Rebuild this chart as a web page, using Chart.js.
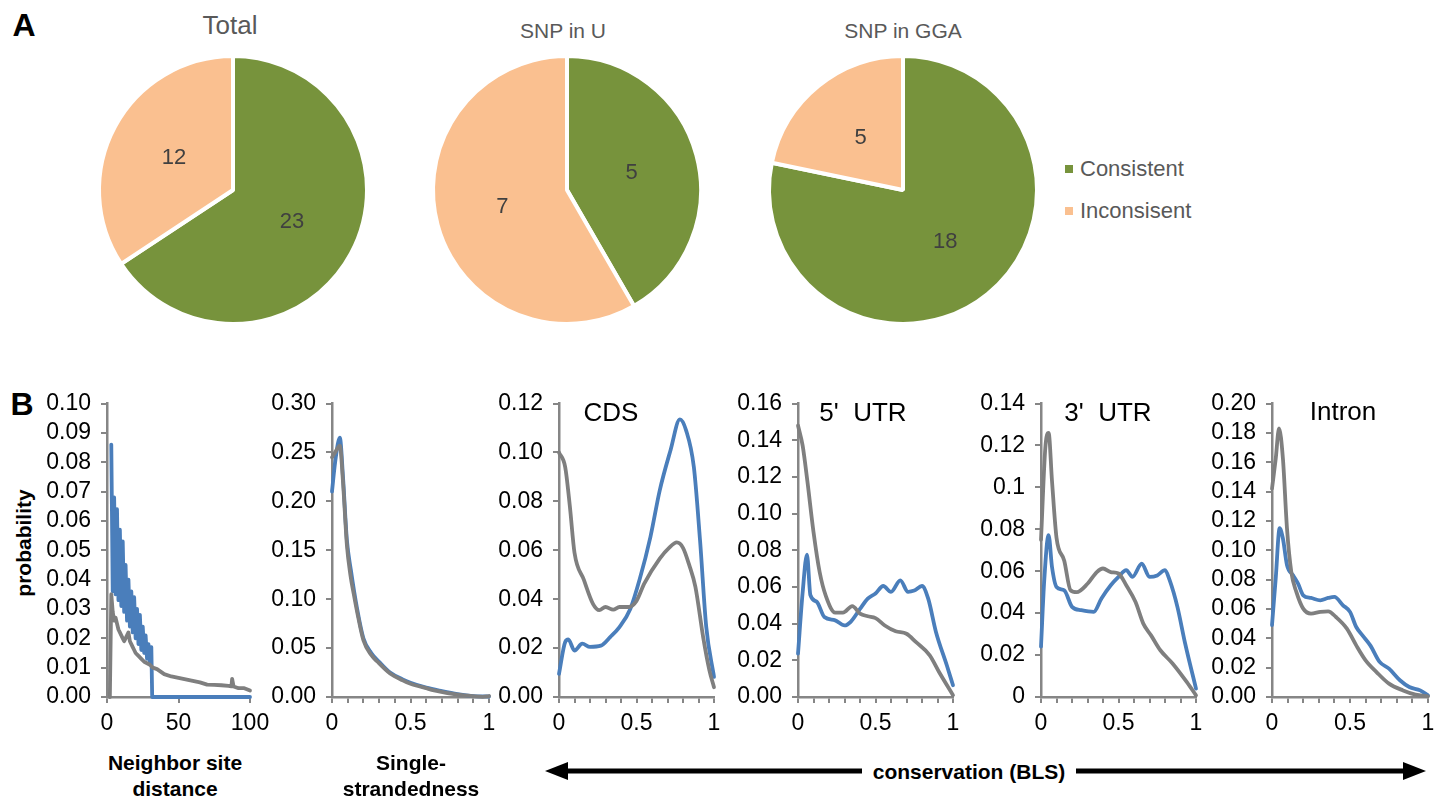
<!DOCTYPE html>
<html>
<head>
<meta charset="utf-8">
<script src="https://cdn.jsdelivr.net/npm/chart.js@4.4.0/dist/chart.umd.min.js"></script>
<style>
  body { margin: 0; background: #fff; font-family: "Liberation Sans", Arial, sans-serif; }
  #fig { position: relative; width: 1435px; height: 803px; overflow: hidden; background: #fff; }
  #fig canvas, #fig .t, #fig svg { position: absolute; }
  .t { white-space: pre; line-height: 1; transform: translate(-50%, -50%); }
</style>
</head>
<body>
<div id="fig"></div>
<script>
// ---- panel A data ----
const pieCategories = ['Consistent', 'Inconsisent'];
const pieColors = ['#77933C', '#FAC090'];
const pieTitles = ['Total', 'SNP in U', 'SNP in GGA'];
const totalCounts = [23, 12];
const snpUCounts = [5, 7];
const snpGGACounts = [18, 5];

// ---- panel B data (blue and gray series) ----
const distBlueX = [3, 4, 5, 6, 7, 8, 9, 10, 11, 12, 13, 14, 15, 16, 17, 18, 19, 20, 21, 22, 23, 24, 25, 26, 27, 28, 29, 30, 31, 31.6, 100];
const distBlueY = [0.086, 0.036, 0.068, 0.035, 0.064, 0.033, 0.057, 0.031, 0.053, 0.029, 0.045, 0.026, 0.040, 0.024, 0.036, 0.022, 0.034, 0.020, 0.030, 0.018, 0.028, 0.016, 0.024, 0.015, 0.021, 0.013, 0.018, 0.012, 0.017, 0, 0];
const distGrayX = [2, 3, 4, 5, 6, 7, 8, 9, 10, 11, 12, 13, 14, 15, 16, 17, 18, 19, 20, 22, 24, 26, 28, 30, 32, 35, 40, 45, 50, 55, 60, 65, 70, 75, 80, 85, 87, 87.5, 88.5, 92, 96, 100];
const distGrayY = [0, 0.035, 0.029, 0.026, 0.027, 0.025, 0.023, 0.022, 0.021, 0.020, 0.019, 0.020, 0.021, 0.022, 0.019, 0.018, 0.017, 0.016, 0.015, 0.014, 0.013, 0.012, 0.0115, 0.011, 0.010, 0.0095, 0.0078, 0.007, 0.0065, 0.006, 0.0055, 0.005, 0.0042, 0.0041, 0.004, 0.0038, 0.0036, 0.0062, 0.0036, 0.003, 0.003, 0.0022];

const strandBlueX = [0, 0.02, 0.05, 0.07, 0.095, 0.12, 0.16, 0.2, 0.25, 0.3, 0.37, 0.45, 0.5, 0.6, 0.7, 0.8, 0.9, 1];
const strandBlueY = [0.21, 0.24, 0.265, 0.225, 0.16, 0.13, 0.09, 0.06, 0.045, 0.036, 0.025, 0.018, 0.0145, 0.0095, 0.006, 0.003, 0.001, 0.0005];
const strandGrayX = [0, 0.02, 0.05, 0.07, 0.095, 0.117, 0.14, 0.16, 0.2, 0.25, 0.29, 0.37, 0.45, 0.5, 0.6, 0.65, 0.8, 0.9, 0.96, 1];
const strandGrayY = [0.245, 0.25, 0.257, 0.22, 0.155, 0.125, 0.104, 0.087, 0.058, 0.043, 0.036, 0.024, 0.017, 0.0136, 0.009, 0.0068, 0.0024, 0.0008, 0.0002, 0.001];

const cdsBlueX = [0, 0.04, 0.06, 0.1, 0.15, 0.2, 0.27, 0.33, 0.39, 0.46, 0.52, 0.59, 0.65, 0.72, 0.78, 0.82, 0.87, 0.91, 0.95, 1];
const cdsBlueY = [0.0095, 0.0225, 0.0235, 0.019, 0.0218, 0.0205, 0.021, 0.0245, 0.0286, 0.036, 0.048, 0.0655, 0.0845, 0.101, 0.1135, 0.109, 0.094, 0.064, 0.0286, 0.0082];
const cdsGrayX = [0, 0.04, 0.07, 0.1, 0.16, 0.22, 0.26, 0.3, 0.35, 0.39, 0.45, 0.5, 0.55, 0.65, 0.71, 0.76, 0.8, 0.84, 0.88, 0.93, 0.97, 1];
const cdsGrayY = [0.1, 0.094, 0.078, 0.059, 0.048, 0.038, 0.0355, 0.0368, 0.0357, 0.0368, 0.0368, 0.0393, 0.0464, 0.0566, 0.061, 0.0632, 0.061, 0.054, 0.045, 0.0245, 0.011, 0.004];

const utr5BlueX = [0, 0.03, 0.058, 0.08, 0.12, 0.17, 0.24, 0.3, 0.34, 0.4, 0.45, 0.5, 0.55, 0.6, 0.66, 0.71, 0.75, 0.8, 0.84, 0.89, 0.96, 1];
const utr5BlueY = [0.0236, 0.057, 0.0776, 0.0555, 0.052, 0.0436, 0.0418, 0.039, 0.041, 0.048, 0.0536, 0.0564, 0.0605, 0.0573, 0.0636, 0.0573, 0.058, 0.0605, 0.0536, 0.0355, 0.0173, 0.0064];
const utr5GrayX = [0, 0.03, 0.06, 0.1, 0.14, 0.18, 0.24, 0.29, 0.35, 0.4, 0.45, 0.5, 0.56, 0.63, 0.7, 0.76, 0.85, 0.91, 1];
const utr5GrayY = [0.148, 0.137, 0.118, 0.09, 0.068, 0.055, 0.046, 0.046, 0.0495, 0.0455, 0.044, 0.043, 0.039, 0.0358, 0.0345, 0.03, 0.0227, 0.0136, 0.001];

const utr3BlueX = [0, 0.021, 0.049, 0.071, 0.1, 0.15, 0.2, 0.26, 0.34, 0.39, 0.45, 0.5, 0.55, 0.59, 0.65, 0.7, 0.75, 0.8, 0.83, 0.88, 0.93, 1];
const utr3BlueY = [0.024, 0.0557, 0.0772, 0.062, 0.0525, 0.0509, 0.043, 0.0414, 0.0406, 0.047, 0.0533, 0.0573, 0.0605, 0.0573, 0.0636, 0.0573, 0.058, 0.0605, 0.0557, 0.043, 0.0255, 0.004];
const utr3GrayX = [0, 0.028, 0.049, 0.071, 0.1, 0.15, 0.19, 0.23, 0.3, 0.36, 0.4, 0.45, 0.5, 0.55, 0.61, 0.66, 0.71, 0.77, 0.85, 0.94, 1];
const utr3GrayY = [0.075, 0.119, 0.126, 0.103, 0.076, 0.065, 0.051, 0.05, 0.054, 0.0596, 0.0613, 0.0596, 0.0589, 0.0533, 0.0453, 0.035, 0.0294, 0.0223, 0.0159, 0.0072, 0.0008];

const intronBlueX = [0, 0.024, 0.049, 0.07, 0.096, 0.135, 0.167, 0.2, 0.25, 0.31, 0.36, 0.4, 0.455, 0.5, 0.54, 0.58, 0.63, 0.69, 0.75, 0.82, 0.88, 0.95, 1];
const intronBlueY = [0.049, 0.081, 0.115, 0.108, 0.09, 0.083, 0.0773, 0.0693, 0.0675, 0.0659, 0.0675, 0.0682, 0.0625, 0.058, 0.0477, 0.042, 0.0352, 0.0239, 0.0193, 0.0114, 0.0068, 0.0045, 0.0011];
const intronGrayX = [0, 0.024, 0.045, 0.07, 0.096, 0.124, 0.156, 0.2, 0.25, 0.31, 0.36, 0.41, 0.48, 0.54, 0.6, 0.67, 0.75, 0.84, 0.92, 1];
const intronGrayY = [0.142, 0.1625, 0.183, 0.1625, 0.115, 0.085, 0.0716, 0.0602, 0.0568, 0.058, 0.0584, 0.0545, 0.0466, 0.0352, 0.025, 0.017, 0.0091, 0.0045, 0.0016, 0.0005];

const BLUE = '#4a7ebb', GRAY = '#7f7f7f', AXIS = '#868686';
const FONT = '"Liberation Sans", Arial, sans-serif';
Chart.defaults.font.family = FONT;

const fig = document.getElementById('fig');

function addText(txt, x, y, css) {
  const d = document.createElement('div');
  d.className = 't';
  d.textContent = txt;
  d.style.left = x + 'px';
  d.style.top = y + 'px';
  Object.assign(d.style, css || {});
  fig.appendChild(d);
  return d;
}

// ---- pies ----
const sliceLabels = {
  id: 'sliceLabels',
  afterDatasetsDraw(chart) {
    const ctx = chart.ctx;
    const vals = chart.data.datasets[0].data;
    ctx.save();
    ctx.font = '22px ' + FONT;
    ctx.fillStyle = '#404040';
    ctx.textAlign = 'center';
    ctx.textBaseline = 'middle';
    chart.getDatasetMeta(0).data.forEach((arc, i) => {
      const p = arc.getProps(['x', 'y', 'startAngle', 'endAngle', 'outerRadius']);
      const a = (p.startAngle + p.endAngle) / 2;
      const r = p.outerRadius * 0.5;
      ctx.fillText(String(vals[i]), p.x + Math.cos(a) * r, p.y + Math.sin(a) * r);
    });
    ctx.restore();
  }
};

function makePie(cx, cy, counts) {
  const c = document.createElement('canvas');
  c.width = 280; c.height = 280;
  c.style.left = (cx - 140) + 'px';
  c.style.top = (cy - 140) + 'px';
  fig.appendChild(c);
  new Chart(c, {
    type: 'pie',
    data: {
      labels: pieCategories,
      datasets: [{ data: counts, backgroundColor: pieColors, borderColor: '#fff', borderWidth: 4, radius: 134 }]
    },
    options: {
      responsive: false, animation: false, events: [],
      layout: { padding: 0 },
      plugins: { legend: { display: false }, tooltip: { enabled: false } }
    },
    plugins: [sliceLabels]
  });
}

makePie(233, 189.5, totalCounts);
makePie(567, 189.5, snpUCounts);
makePie(903, 189.5, snpGGACounts);

addText(pieTitles[0], 230, 25, { fontSize: '26px', color: '#595959' });
addText(pieTitles[1], 563, 30, { fontSize: '21px', color: '#595959' });
addText(pieTitles[2], 903, 30, { fontSize: '21px', color: '#595959' });

// legend
pieCategories.forEach((name, i) => {
  const y = 169 + i * 42;
  const sq = document.createElement('div');
  Object.assign(sq.style, { position: 'absolute', left: '1065px', top: (y - 4) + 'px', width: '8px', height: '8px', background: pieColors[i] });
  fig.appendChild(sq);
  addText(name, 1080, y, { fontSize: '22px', color: '#595959', transform: 'translate(0,-50%)' });
});

// ---- line charts ----
const AREA_TOP = 403.5, AREA_BOTTOM = 697, CANVAS_TOP = 380, CANVAS_H = 360;
const YW = 70, PAD_R = 22;

function makeLine(left, right, o) {
  const c = document.createElement('canvas');
  c.width = YW + (right - left) + PAD_R;
  c.height = CANVAS_H;
  c.style.left = (left - YW) + 'px';
  c.style.top = CANVAS_TOP + 'px';
  fig.appendChild(c);
  const sets = [
    { x: o.grayX, y: o.grayY, color: GRAY },
    { x: o.blueX, y: o.blueY, color: BLUE }
  ];
  new Chart(c, {
    type: 'line',
    data: {
      datasets: sets.map(s => ({
        data: s.x.map((x, i) => ({ x: x, y: s.y[i] })),
        borderColor: s.color,
        borderWidth: 3.8,
        borderJoinStyle: 'round',
        borderCapStyle: 'round',
        pointRadius: 0,
        fill: false,
        tension: 0,
        cubicInterpolationMode: o.smooth ? 'monotone' : 'default',
        clip: 6
      }))
    },
    options: {
      responsive: false, animation: false, events: [],
      layout: { padding: { top: AREA_TOP - CANVAS_TOP, right: PAD_R, left: 0, bottom: 0 } },
      plugins: { legend: { display: false }, tooltip: { enabled: false } },
      scales: {
        x: {
          type: 'linear', min: 0, max: o.xMax,
          ticks: { stepSize: o.xStep, autoSkip: false, maxRotation: 0, padding: 7, color: '#000', font: { size: 23 }, callback: o.xLabel },
          grid: { display: true, drawOnChartArea: false, drawTicks: true, tickLength: 6, color: AXIS, lineWidth: 2 },
          border: { display: true, color: AXIS, width: 2.5 },
          afterFit: s => { s.height = CANVAS_TOP + CANVAS_H - AREA_BOTTOM; s.paddingLeft = 0; s.paddingRight = 0; }
        },
        y: {
          min: 0, max: o.yMax,
          ticks: { stepSize: o.yStep, autoSkip: false, padding: 10, color: '#000', font: { size: 23 }, callback: o.yLabel },
          grid: { display: true, drawOnChartArea: false, drawTicks: true, tickLength: 6, color: AXIS, lineWidth: 2 },
          border: { display: true, color: AXIS, width: 2.5 },
          afterFit: s => { s.width = YW; s.paddingTop = 0; s.paddingBottom = 0; }
        }
      }
    }
  });
}

const fix2 = v => v.toFixed(2);
const general = v => String(+v.toFixed(2));
const blsLabel = v => { const r = Math.round(v * 10) / 10; return (r === 0 || r === 0.5 || r === 1) ? String(r) : ''; };

makeLine(107, 250, { xMax: 100, xStep: 50, xLabel: v => String(v), yMax: 0.10, yStep: 0.01, yLabel: fix2,
  blueX: distBlueX, blueY: distBlueY, grayX: distGrayX, grayY: distGrayY, smooth: false });
makeLine(332, 489, { xMax: 1, xStep: 0.1, xLabel: blsLabel, yMax: 0.30, yStep: 0.05, yLabel: fix2,
  blueX: strandBlueX, blueY: strandBlueY, grayX: strandGrayX, grayY: strandGrayY, smooth: true });
makeLine(559, 714, { xMax: 1, xStep: 0.1, xLabel: blsLabel, yMax: 0.12, yStep: 0.02, yLabel: fix2,
  blueX: cdsBlueX, blueY: cdsBlueY, grayX: cdsGrayX, grayY: cdsGrayY, smooth: true });
makeLine(798, 953, { xMax: 1, xStep: 0.1, xLabel: blsLabel, yMax: 0.16, yStep: 0.02, yLabel: fix2,
  blueX: utr5BlueX, blueY: utr5BlueY, grayX: utr5GrayX, grayY: utr5GrayY, smooth: true });
makeLine(1041, 1196, { xMax: 1, xStep: 0.1, xLabel: blsLabel, yMax: 0.14, yStep: 0.02, yLabel: general,
  blueX: utr3BlueX, blueY: utr3BlueY, grayX: utr3GrayX, grayY: utr3GrayY, smooth: true });
makeLine(1272, 1428, { xMax: 1, xStep: 0.1, xLabel: blsLabel, yMax: 0.20, yStep: 0.02, yLabel: fix2,
  blueX: intronBlueX, blueY: intronBlueY, grayX: intronGrayX, grayY: intronGrayY, smooth: true });

// panel titles and axis texts
addText('CDS', 611, 412, { fontSize: '26px', color: '#000' });
addText("5'  UTR", 863, 412, { fontSize: '26px', color: '#000' });
addText("3'  UTR", 1108, 412, { fontSize: '26px', color: '#000' });
addText('Intron', 1343, 411, { fontSize: '26px', color: '#000' });

addText('A', 24, 25, { fontSize: '32px', fontWeight: 'bold', color: '#000' });
addText('B', 22, 404, { fontSize: '32px', fontWeight: 'bold', color: '#000' });
addText('probability', 23, 543, { fontSize: '21px', fontWeight: 'bold', color: '#000', transform: 'translate(-50%,-50%) rotate(-90deg)' });
addText('Neighbor site', 175, 762, { fontSize: '21px', fontWeight: 'bold', color: '#000' });
addText('distance', 175, 788, { fontSize: '21px', fontWeight: 'bold', color: '#000' });
addText('Single-', 411, 762, { fontSize: '21px', fontWeight: 'bold', color: '#000' });
addText('strandedness', 411, 788, { fontSize: '21px', fontWeight: 'bold', color: '#000' });
addText('conservation (BLS)', 969, 771, { fontSize: '21px', fontWeight: 'bold', color: '#000' });

// double arrow
const svgNS = 'http://www.w3.org/2000/svg';
const svg = document.createElementNS(svgNS, 'svg');
svg.setAttribute('width', '1435'); svg.setAttribute('height', '803');
svg.style.left = '0px'; svg.style.top = '0px';
svg.innerHTML =
  '<line x1="560" y1="771" x2="862" y2="771" stroke="#000" stroke-width="5"/>' +
  '<line x1="1076" y1="771" x2="1410" y2="771" stroke="#000" stroke-width="5"/>' +
  '<polygon points="545,771 568,762 568,780" fill="#000"/>' +
  '<polygon points="1426,771 1403,762 1403,780" fill="#000"/>';
fig.appendChild(svg);
</script>
</body>
</html>
